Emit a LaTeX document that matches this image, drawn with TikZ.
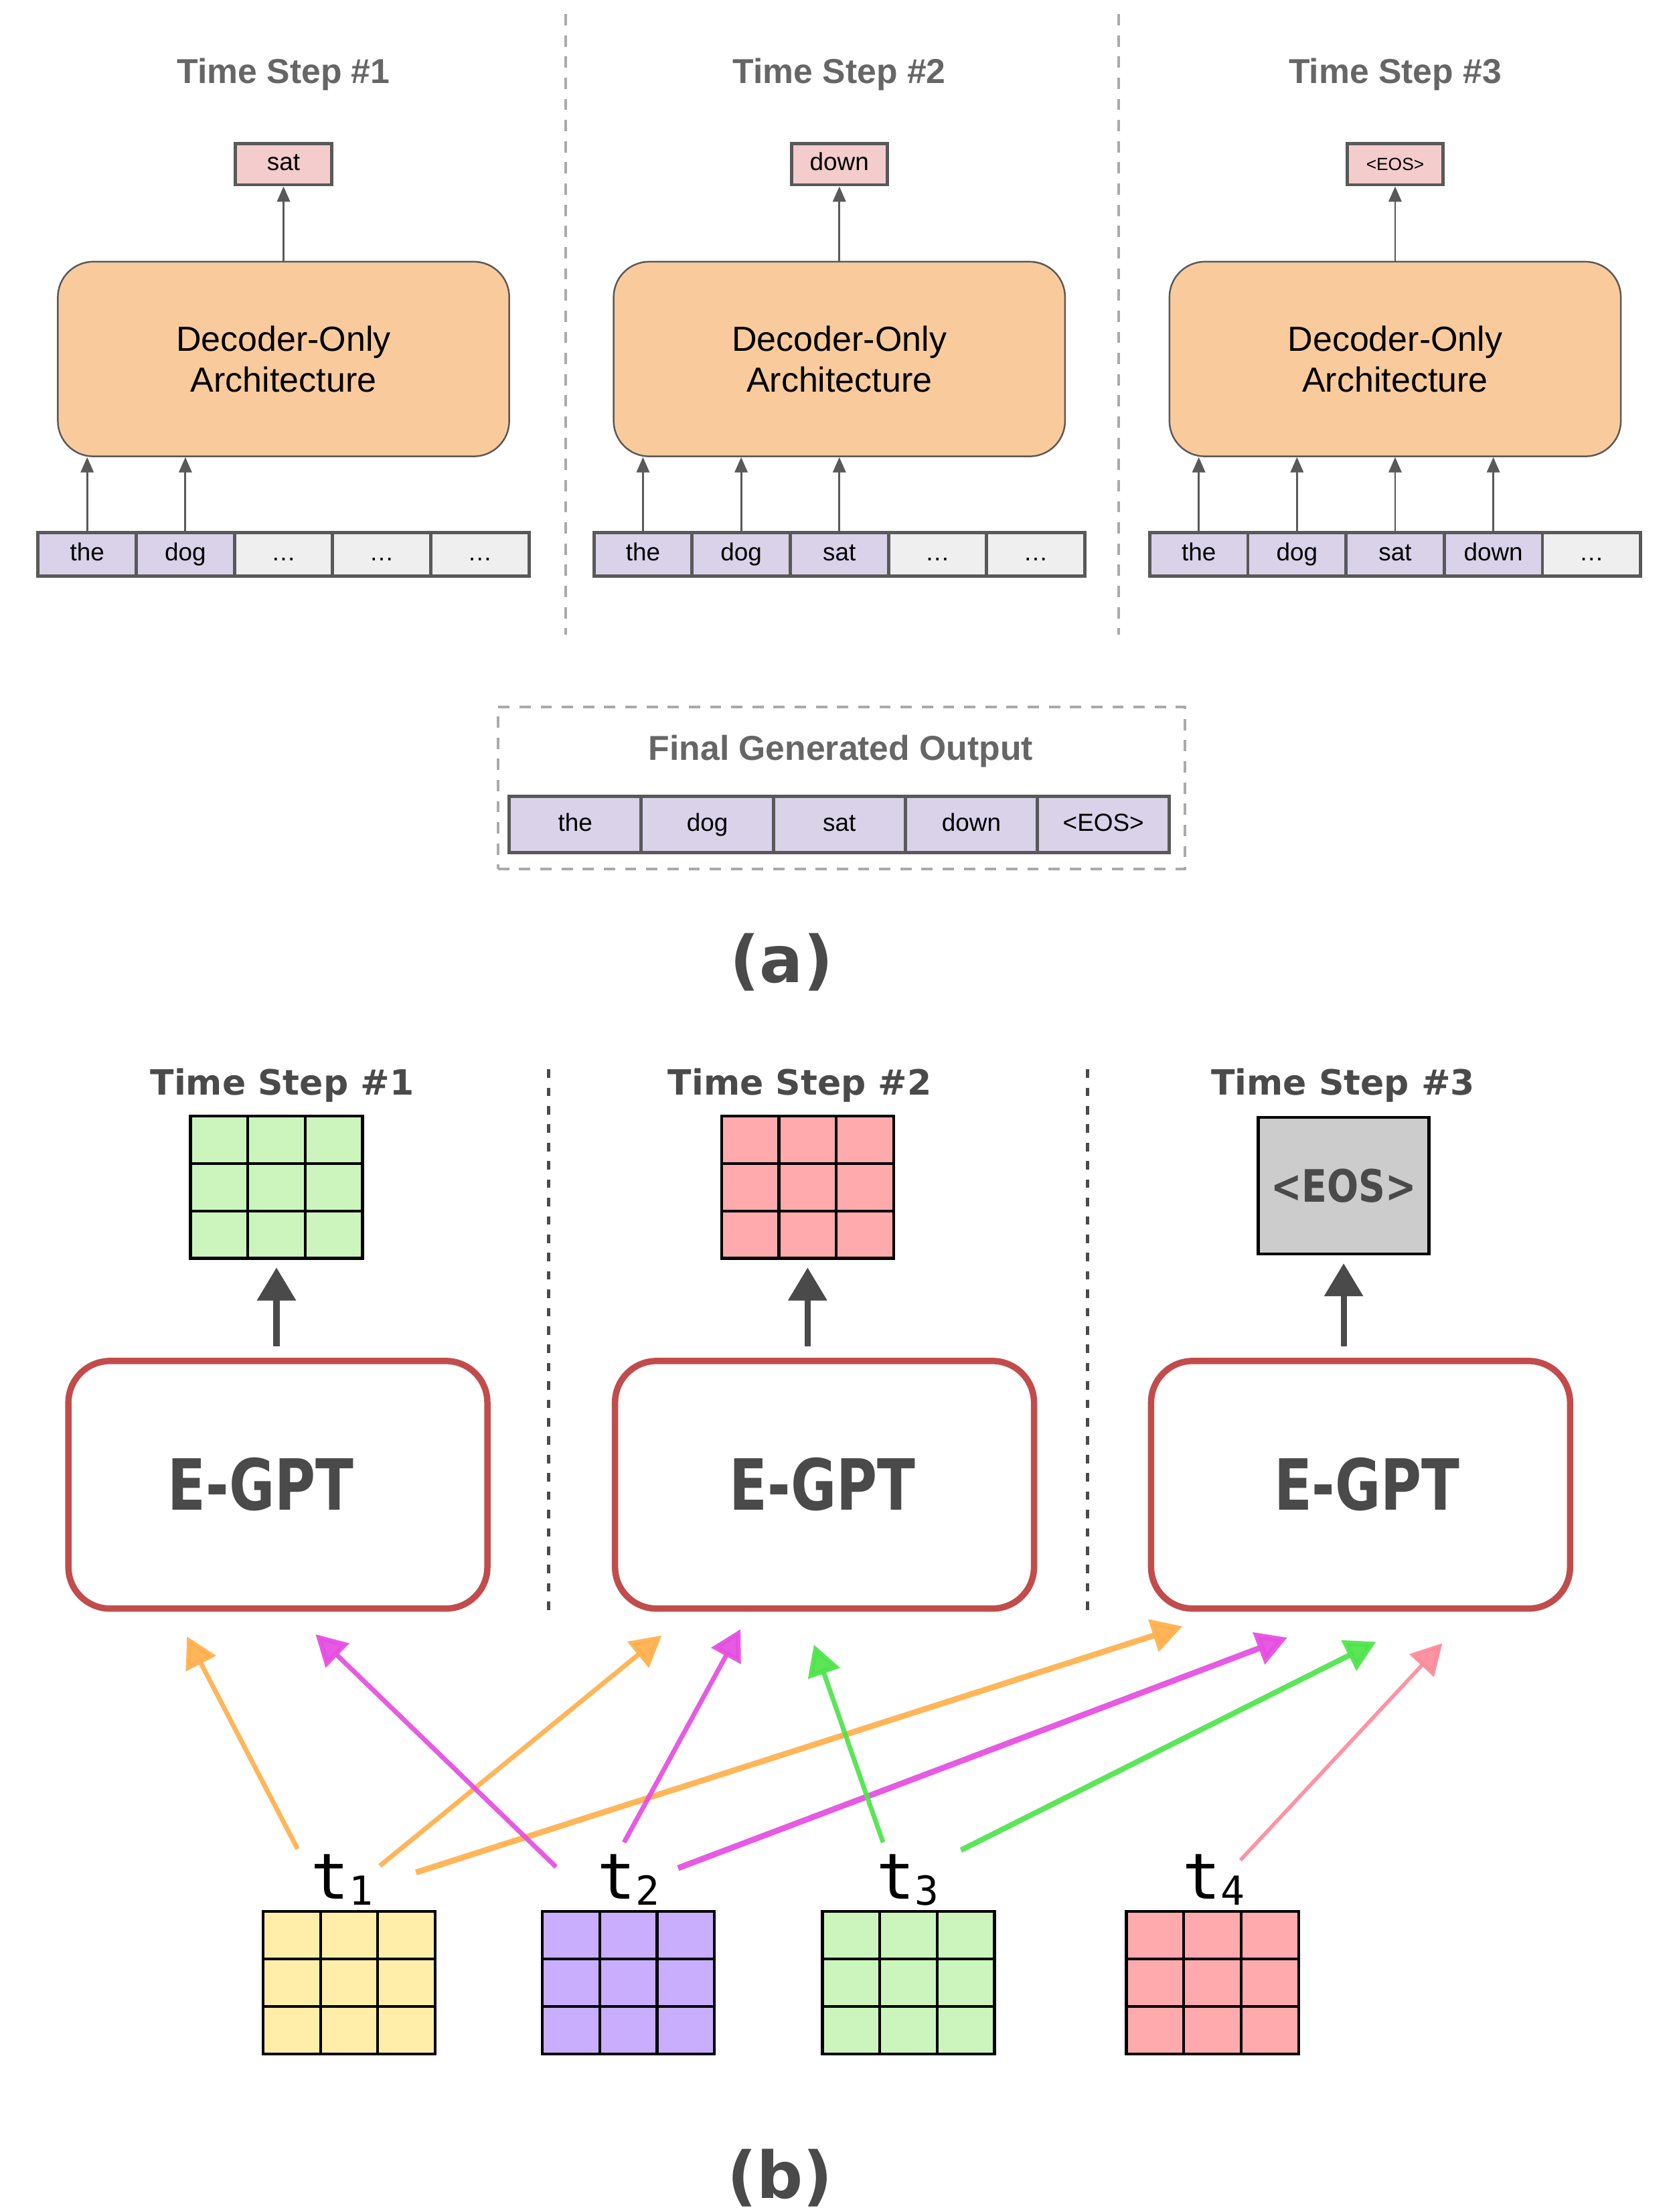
\documentclass[tikz,border=0pt]{standalone}
\usepackage{fontspec}
\usepackage{graphicx}
\setmainfont{Liberation Sans}
\newfontfamily\dvsans{DejaVu Sans}
\newfontfamily\dvmono{DejaVu Sans Mono}
\usetikzlibrary{arrows.meta,calc,positioning}
\definecolor{capg}{HTML}{666666}
\definecolor{edge}{HTML}{595959}
\definecolor{outpk}{HTML}{F4CCCC}
\definecolor{decor}{HTML}{F9CB9C}
\definecolor{tokpu}{HTML}{D9D2E9}
\definecolor{tokgy}{HTML}{EFEFEF}
\definecolor{dashg}{HTML}{AAAAAA}
\definecolor{inkg}{HTML}{4A4A4A}
\definecolor{egred}{HTML}{C24C4C}
\definecolor{cgrn}{HTML}{CCF5BD}
\definecolor{cred}{HTML}{FFAAAD}
\definecolor{cyel}{HTML}{FFEEAA}
\definecolor{cpur}{HTML}{C9AEFD}
\definecolor{ceos}{HTML}{CCCCCC}
\definecolor{aorg}{HTML}{FFB04C}
\definecolor{amag}{HTML}{E64CE0}
\definecolor{agrn}{HTML}{4EE44A}
\definecolor{apnk}{HTML}{FF8A9B}
\newcommand\px{0.02107cm}
\newcommand\tsub[1]{t\raisebox{-0.1em}{\fontsize{17}{17}\selectfont #1}}

\tikzset{
  ttl/.style={font=\fontsize{14.7}{17}\selectfont\bfseries, text=capg, anchor=base},
  outbox/.style={draw=edge, line width=1.4pt, fill=outpk, minimum width=68*\px, minimum height=29*\px, inner sep=0pt, text height=7.6pt, text depth=2.2pt, font=\fontsize{10.5}{12}\selectfont},
  decbox/.style={draw=edge, line width=0.7pt, fill=decor, rounded corners=0.53cm, minimum width=320*\px, minimum height=138*\px, align=center, font=\fontsize{14.8}{17.4}\selectfont},
  tok/.style={draw=edge, line width=1.4pt, fill=tokpu, minimum width=69.6*\px, minimum height=31*\px, inner sep=0pt, text height=7.6pt, text depth=2.2pt, font=\fontsize{10.5}{12}\selectfont},
  emp/.style={tok, fill=tokgy},
  fintok/.style={tok, minimum width=93.6*\px, minimum height=40*\px},
  vsep/.style={draw=dashg, line width=1.2pt, dash pattern=on 4.8pt off 4.2pt},
  uparr/.style={draw=edge, line width=0.8pt, -{Triangle[length=6.5pt,width=5.5pt]}},
  ttlb/.style={font=\dvsans\bfseries\fontsize{14.8}{17}\selectfont, text=inkg, anchor=base},
  gridbox/.style={draw=black, line width=1.2pt, minimum width=122*\px, minimum height=101*\px, inner sep=0pt,
    path picture={\foreach \f in {1,2} {
      \draw[line width=1.2pt] ($(path picture bounding box.north west)!\f/3!(path picture bounding box.north east)$) -- ($(path picture bounding box.south west)!\f/3!(path picture bounding box.south east)$);
      \draw[line width=1.2pt] ($(path picture bounding box.north west)!\f/3!(path picture bounding box.south west)$) -- ($(path picture bounding box.north east)!\f/3!(path picture bounding box.south east)$);}}},
  egpt/.style={draw=egred, line width=2.7pt, fill=white, rounded corners=0.62cm, minimum width=297*\px, minimum height=175.5*\px, inner sep=0pt},
  egtxt/.style={font=\dvsans\bfseries\fontsize{30}{32}\selectfont, text=inkg},
  bigarr/.style={draw=inkg, line width=2.6pt, -{Triangle[length=14pt,width=16pt]}},
  vsepb/.style={draw=inkg, line width=1.5pt, dash pattern=on 3.6pt off 4.2pt},
  link/.style={line width=2pt, opacity=0.92, -{Triangle[length=13pt,width=14pt]}},
  tlab/.style={font=\dvmono\fontsize{27}{28}\selectfont, anchor=base west, inner sep=0pt},
  partlbl/.style={font=\dvsans\bfseries\fontsize{27.5}{30}\selectfont, text=inkg}
}

\begin{document}
\begin{tikzpicture}[x=0.02107cm,y=-0.02107cm]
  \fill[white] (0,0) rectangle (1190,1568);
  \useasboundingbox (0,0) rectangle (1190,1568);

  % (a) autoregressive decoding
  \draw[vsep] (401,10) -- (401,450); \draw[vsep] (793,10) -- (793,450);
  \foreach \c/\cx/\w in {1/201/sat,2/595/down,3/989/{\fontsize{7.5}{9}\selectfont<EOS>}} {
    \node[ttl] (ts\c) at (\cx,59) {Time Step \#\c};
    \node[outbox] (out\c) at (\cx,116.5) {\w};
    \node[decbox] (dec\c) at (\cx,254.5) {Decoder-Only\\Architecture};
    \draw[uparr] (dec\c.north) -- (out\c.south);
  }
  \foreach \w/\s [count=\i] in {the/tok,dog/tok,…/emp,…/emp,…/emp} \node[\s] (r1\i) at ({61.8+69.6*(\i-1)},393) {\w};
  \foreach \w/\s [count=\i] in {the/tok,dog/tok,sat/tok,…/emp,…/emp} \node[\s] (r2\i) at ({455.8+69.6*(\i-1)},393) {\w};
  \foreach \w/\s [count=\i] in {the/tok,dog/tok,sat/tok,down/tok,…/emp} \node[\s] (r3\i) at ({849.8+69.6*(\i-1)},393) {\w};
  \foreach \c/\n in {1/2,2/3,3/4} \foreach \i in {1,...,\n} \draw[uparr] (r\c\i.north) -- (r\c\i.north |- dec\c.south);

  % final output
  \node[vsep, minimum width=487*\px, minimum height=115*\px] (fin) at (596.5,558.5) {};
  \node[ttl] (fint) at (596,538.8) {Final Generated Output};
  \foreach \w [count=\i] in {the,dog,sat,down,<EOS>} \node[fintok] (f\i) at ({407.8+93.6*(\i-1)},584.5) {\w};
  \node[partlbl] (pa) at (554,682) {(a)};

  % (b) E-GPT
  \draw[vsepb] (389,758) -- (389,1148); \draw[vsepb] (771,758) -- (771,1148);
  \node[ttlb] (tb1) at (200,776) {Time Step \#1};
  \node[ttlb] (tb2) at (567,776) {Time Step \#2};
  \node[ttlb] (tb3) at (952,776) {Time Step \#3};
  \node[gridbox, fill=cgrn] (o1) at (196,841.5) {};
  \node[gridbox, fill=cred] (o2) at (572.5,841.5) {};
  \node[draw=black, line width=1.2pt, fill=ceos, minimum width=121*\px, minimum height=97*\px, inner sep=0pt,
        font=\dvsans\bfseries\fontsize{19}{21}\selectfont, text=inkg] (o3) at (952.5,840.5) {\scalebox{0.83}[1]{<EOS>}};
  \node[egpt] (e1) at (197,1052.5) {};
  \node[egpt] (e2) at (584.5,1052.5) {};
  \node[egpt] (e3) at (964.5,1052.5) {};
  \node[egtxt] (et1) at (185,1052) {\scalebox{0.79}[1]{E-GPT}};
  \node[egtxt] (et2) at (583,1052) {\scalebox{0.79}[1]{E-GPT}};
  \node[egtxt] (et3) at (969,1052) {\scalebox{0.79}[1]{E-GPT}};
  \foreach \k in {1,2,3} \draw[bigarr, shorten <=4.8pt, shorten >=3.3pt] (o\k.south |- e\k.north) -- (o\k.south);

  % input tokens
  \foreach \k/\gx/\lx/\col in {1/247.5/220/cyel,2/445.5/423/cpur,3/644/621/cgrn,4/859.5/838/cred} {
    \node[gridbox, fill=\col] (g\k) at (\gx,1405.5) {};
    \node[tlab] (t\k) at (\lx,1346) {\tsub{\k}};
  }
  \draw[link, aorg] ($(g1.north)+(-36.5,-43.3)$) -- ($(e1.south)+(-64.5,17.5)$);
  \draw[link, aorg] ($(g1.north)+(21.8,-31.4)$) -- ($(e2.south)+(-115.4,16.8)$);
  \draw[link, aorg, line width=2.5pt] ($(g1.north)+(47.4,-26.7)$) -- ($(e3.south)+(-126.2,10.3)$);
  \draw[link, amag] ($(g2.north)+(-51.3,-30.6)$) -- ($(e1.south)+(26.7,16)$);
  \draw[link, amag] ($(g2.north)+(-3.1,-48)$) -- ($(e2.south)+(-59.5,12.3)$);
  \draw[link, amag, line width=2.5pt] ($(g2.north)+(35.2,-29.8)$) -- ($(e3.south)+(-51.9,18.3)$);
  \draw[link, agrn] ($(g3.north)+(-18,-48)$) -- ($(e2.south)+(-7.5,23.3)$);
  \draw[link, agrn, line width=2.3pt] ($(g3.north)+(37.2,-42.5)$) -- ($(e3.south)+(11,21.3)$);
  \draw[link, apnk, line width=1.6pt] ($(g4.north)+(19.8,-35.4)$) -- ($(e3.south)+(58,22.3)$);
  \node[partlbl] (pb) at (553,1544) {(b)};
\end{tikzpicture}
\end{document}
